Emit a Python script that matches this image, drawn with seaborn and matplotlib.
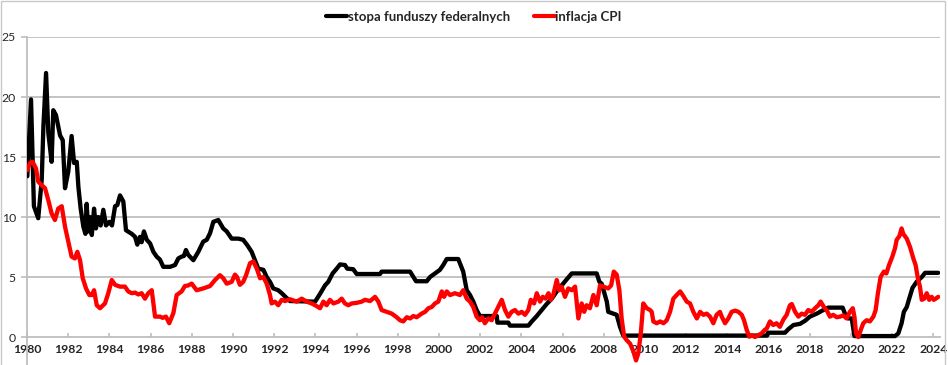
import matplotlib
matplotlib.use("Agg")
import matplotlib.pyplot as plt
import seaborn as sns
import pandas as pd
from matplotlib.patches import Rectangle
from matplotlib.lines import Line2D

# ---- data ----
ff_year = [1980.02, 1980.20, 1980.34, 1980.55, 1980.72, 1980.80, 1980.93, 1981.04, 1981.20, 1981.28,
           1981.41, 1981.48, 1981.61, 1981.74, 1981.85, 1982.01, 1982.17, 1982.29, 1982.42, 1982.50,
           1982.61, 1982.74, 1982.84, 1982.90, 1982.98, 1983.05, 1983.15, 1983.26, 1983.35, 1983.47,
           1983.58, 1983.71, 1983.84, 1984.00, 1984.13, 1984.28, 1984.39, 1984.52, 1984.68, 1984.81,
           1985.09, 1985.25, 1985.36, 1985.49, 1985.57, 1985.68, 1985.82, 1985.98, 1986.14, 1986.30,
           1986.46, 1986.62, 1986.95, 1987.19, 1987.35, 1987.51, 1987.62, 1987.72, 1987.83, 1988.08,
           1988.32, 1988.56, 1988.73, 1988.89, 1989.05, 1989.29, 1989.53, 1989.70, 1989.94, 1990.26,
           1990.50, 1990.70, 1990.91, 1991.07, 1991.23, 1991.48, 1991.64, 1991.80, 1991.96, 1992.20,
           1992.37, 1992.58, 1992.77, 1993.99, 1994.23, 1994.47, 1994.63, 1994.84, 1995.04, 1995.20,
           1995.44, 1995.55, 1995.84, 1996.01, 1997.14, 1997.22, 1998.60, 1998.76, 1998.89, 1999.41,
           1999.57, 1999.81, 2000.05, 2000.21, 2000.38, 2000.94, 2001.18, 2001.35, 2001.51, 2001.67,
           2001.83, 2001.99, 2002.81, 2002.84, 2003.37, 2003.45, 2004.34, 2004.51, 2004.75, 2004.99,
           2005.23, 2005.48, 2005.72, 2005.96, 2006.20, 2006.45, 2007.66, 2007.79, 2007.90, 2008.01,
           2008.15, 2008.22, 2008.63, 2008.79, 2008.95, 2015.93, 2015.97, 2016.80, 2016.96, 2017.21,
           2017.53, 2017.77, 2018.01, 2018.34, 2018.66, 2018.90, 2019.60, 2019.71, 2019.87, 2020.04,
           2020.17, 2022.14, 2022.30, 2022.46, 2022.57, 2022.71, 2022.83, 2022.99, 2023.19, 2023.44,
           2023.60, 2024.24]
ff_rate = [13.4, 19.8, 10.9, 9.9, 13.1, 17.5, 22.0, 17.0, 14.6, 18.9,
           18.5, 17.9, 16.8, 16.4, 12.4, 13.8, 16.75, 14.5, 14.6, 12.5,
           10.7, 9.2, 8.6, 11.1, 8.8, 10.0, 8.5, 10.7, 9.05, 10.0,
           9.3, 10.6, 9.3, 9.6, 9.3, 10.9, 11.0, 11.8, 11.3, 8.9,
           8.6, 8.35, 7.7, 8.35, 7.9, 8.8, 8.1, 7.8, 7.1, 6.7,
           6.45, 5.85, 5.85, 6.0, 6.55, 6.7, 6.75, 7.25, 6.85, 6.4,
           7.1, 7.95, 8.1, 8.65, 9.6, 9.75, 9.05, 8.8, 8.2, 8.2,
           8.1, 7.65, 7.1, 6.4, 5.7, 5.6, 5.0, 4.6, 4.05, 3.9,
           3.65, 3.3, 3.0, 2.95, 3.6, 4.3, 4.6, 5.3, 5.7, 6.05,
           6.0, 5.7, 5.65, 5.25, 5.25, 5.45, 5.45, 5.0, 4.65, 4.65,
           5.0, 5.3, 5.6, 6.0, 6.5, 6.5, 5.45, 3.9, 3.5, 2.95,
           2.25, 1.75, 1.75, 1.2, 1.2, 0.95, 0.95, 1.3, 1.75, 2.25,
           2.75, 3.2, 3.8, 4.3, 4.8, 5.3, 5.3, 4.6, 4.45, 3.8,
           2.95, 2.1, 1.85, 0.85, 0.12, 0.12, 0.36, 0.36, 0.65, 1.0,
           1.1, 1.35, 1.7, 1.95, 2.25, 2.45, 2.45, 1.95, 1.55, 1.55,
           0.08, 0.08, 0.3, 1.15, 2.1, 2.5, 3.2, 4.1, 4.6, 5.0,
           5.35, 5.35]

cpi_year = [1980.02, 1980.15, 1980.28, 1980.44, 1980.55, 1980.72, 1980.88, 1981.04, 1981.20, 1981.36,
            1981.52, 1981.69, 1981.85, 1982.01, 1982.17, 1982.33, 1982.45, 1982.58, 1982.71, 1982.87,
            1983.03, 1983.15, 1983.26, 1983.39, 1983.55, 1983.79, 1983.95, 1984.12, 1984.28, 1984.52,
            1984.76, 1984.92, 1985.09, 1985.25, 1985.41, 1985.57, 1985.73, 1985.89, 1986.06, 1986.22,
            1986.46, 1986.59, 1986.75, 1986.91, 1987.11, 1987.27, 1987.51, 1987.67, 1987.83, 1988.00,
            1988.24, 1988.56, 1988.89, 1989.13, 1989.37, 1989.53, 1989.70, 1989.94, 1990.10, 1990.20,
            1990.34, 1990.50, 1990.64, 1990.83, 1990.99, 1991.16, 1991.32, 1991.48, 1991.64, 1991.80,
            1991.88, 1992.04, 1992.20, 1992.37, 1992.53, 1992.77, 1993.10, 1993.34, 1993.58, 1993.82,
            1993.99, 1994.23, 1994.39, 1994.55, 1994.71, 1994.88, 1995.12, 1995.28, 1995.44, 1995.60,
            1995.77, 1996.01, 1996.25, 1996.41, 1996.66, 1996.90, 1997.06, 1997.22, 1997.47, 1997.71,
            1997.95, 1998.11, 1998.27, 1998.44, 1998.60, 1998.76, 1998.92, 1999.16, 1999.33, 1999.49,
            1999.65, 1999.81, 1999.97, 2000.14, 2000.25, 2000.38, 2000.54, 2000.78, 2001.02, 2001.18,
            2001.35, 2001.51, 2001.67, 2001.83, 2001.99, 2002.10, 2002.23, 2002.40, 2002.56, 2002.72,
            2002.88, 2003.05, 2003.21, 2003.37, 2003.53, 2003.69, 2003.86, 2004.02, 2004.18, 2004.34,
            2004.46, 2004.62, 2004.75, 2004.91, 2005.04, 2005.18, 2005.32, 2005.43, 2005.55, 2005.72,
            2005.84, 2005.96, 2006.12, 2006.28, 2006.45, 2006.61, 2006.77, 2006.93, 2007.05, 2007.17,
            2007.33, 2007.50, 2007.66, 2007.82, 2007.98, 2008.22, 2008.36, 2008.49, 2008.63, 2008.76,
            2008.87, 2008.99, 2009.11, 2009.28, 2009.44, 2009.57, 2009.68, 2009.80, 2009.92, 2010.09,
            2010.25, 2010.33, 2010.41, 2010.57, 2010.74, 2010.90, 2011.06, 2011.22, 2011.38, 2011.54,
            2011.71, 2011.87, 2012.03, 2012.19, 2012.35, 2012.52, 2012.68, 2012.84, 2013.00, 2013.16,
            2013.32, 2013.48, 2013.64, 2013.73, 2013.89, 2014.05, 2014.21, 2014.38, 2014.54, 2014.70,
            2014.81, 2014.94, 2015.07, 2015.20, 2015.34, 2015.50, 2015.66, 2015.82, 2015.91, 2016.07,
            2016.23, 2016.39, 2016.55, 2016.72, 2016.88, 2017.04, 2017.13, 2017.29, 2017.45, 2017.61,
            2017.77, 2017.93, 2018.09, 2018.26, 2018.42, 2018.53, 2018.69, 2018.82, 2018.98, 2019.14,
            2019.31, 2019.47, 2019.63, 2019.79, 2019.95, 2020.09, 2020.17, 2020.25, 2020.36, 2020.49,
            2020.60, 2020.76, 2020.92, 2021.09, 2021.20, 2021.31, 2021.44, 2021.60, 2021.72, 2021.85,
            2022.01, 2022.14, 2022.22, 2022.35, 2022.46, 2022.54, 2022.71, 2022.87, 2023.03, 2023.14,
            2023.25, 2023.35, 2023.44, 2023.56, 2023.68, 2023.80, 2023.92, 2024.02, 2024.12, 2024.24]
cpi_rate = [13.9, 14.5, 14.6, 14.05, 12.95, 12.65, 12.4, 11.4, 10.3, 9.75,
            10.7, 10.9, 9.2, 7.95, 6.7, 6.55, 7.1, 6.4, 4.9, 4.05,
            3.5, 3.5, 3.9, 2.65, 2.4, 2.8, 3.65, 4.75, 4.35, 4.2,
            4.2, 3.8, 3.65, 3.7, 3.55, 3.65, 3.2, 3.65, 3.9, 1.7,
            1.7, 1.6, 1.7, 1.15, 2.0, 3.5, 3.8, 4.25, 4.3, 4.45,
            3.9, 4.05, 4.25, 4.75, 5.15, 4.9, 4.45, 4.6, 5.2, 5.0,
            4.35, 4.6, 5.15, 6.15, 6.3, 5.7, 4.9, 5.0, 4.45, 3.5,
            2.8, 2.95, 2.65, 3.1, 3.0, 3.15, 2.95, 3.2, 2.95, 2.8,
            2.65, 2.4, 2.95, 2.65, 3.1, 2.8, 2.95, 3.2, 2.8, 2.65,
            2.8, 2.85, 2.95, 3.1, 3.0, 3.35, 2.95, 2.25, 2.1, 1.95,
            1.65, 1.4, 1.3, 1.65, 1.55, 1.75, 1.65, 1.95, 2.1, 2.4,
            2.5, 2.8, 2.95, 3.8, 3.35, 3.8, 3.5, 3.65, 3.5, 3.9,
            3.2, 2.95, 2.5, 1.7, 1.4, 1.65, 1.15, 1.55, 1.4, 1.95,
            2.5, 3.1, 2.25, 1.7, 2.1, 2.25, 1.95, 2.1, 1.85, 2.25,
            3.1, 2.8, 3.65, 2.95, 3.35, 3.2, 3.65, 3.1, 3.5, 4.75,
            3.9, 4.2, 3.35, 4.05, 3.9, 4.2, 1.55, 2.8, 2.1, 2.65,
            2.4, 3.5, 2.65, 4.3, 4.2, 4.05, 4.3, 5.45, 5.2, 3.9,
            1.55, 0.03, -0.25, -0.55, -1.2, -1.95, -1.35, 0.3, 2.8, 2.4,
            2.25, 2.1, 1.3, 1.15, 1.3, 1.15, 1.4, 2.1, 3.2, 3.5,
            3.8, 3.4, 2.95, 2.8, 2.1, 1.55, 2.1, 1.85, 1.95, 1.7,
            1.15, 1.85, 2.1, 1.7, 1.15, 1.55, 2.1, 2.2, 2.1, 1.85,
            1.4, 0.6, 0.03, 0.15, 0.0, 0.15, 0.3, 0.6, 0.7, 1.3,
            1.0, 1.15, 0.85, 1.45, 1.85, 2.65, 2.75, 2.1, 1.7, 1.95,
            1.85, 2.25, 2.1, 2.4, 2.65, 2.95, 2.5, 2.25, 1.7, 1.85,
            1.65, 1.7, 1.8, 1.55, 2.1, 2.4, 1.7, 0.3, 0.0, 0.65,
            1.15, 1.4, 1.3, 1.7, 2.25, 3.65, 5.0, 5.45, 5.3, 6.0,
            6.7, 7.4, 8.1, 8.4, 9.05, 8.6, 8.2, 7.5, 6.55, 6.0,
            4.9, 4.2, 3.1, 3.2, 3.65, 3.1, 3.35, 3.1, 3.2, 3.35]

series_names = ["stopa funduszy federalnych", "inflacja CPI"]
x_ticks = list(range(1980, 2025, 2))
y_ticks = [0, 5, 10, 15, 20, 25]

df = pd.concat([
    pd.DataFrame({"rok": ff_year, "wartosc": ff_rate, "seria": series_names[0]}),
    pd.DataFrame({"rok": cpi_year, "wartosc": cpi_rate, "seria": series_names[1]}),
], ignore_index=True)

sns.set_style("white")
plt.rcParams["font.family"] = ["Lato", "DejaVu Sans"]

W, H = 948, 365
fig = plt.figure(figsize=(W / 100, H / 100), dpi=100)
x0, x1 = 26.9, 939.5
y_top = 37.0
ax = fig.add_axes([x0 / W, 0.0, (x1 - x0) / W, (H - y_top) / H])

grid_c = "#BEBEBE"
for v in y_ticks[1:]:
    ax.axhline(v, color=grid_c, lw=1.3, zorder=0)

sns.lineplot(data=df, x="rok", y="wartosc", hue="seria", sort=False, estimator=None,
             palette={series_names[0]: "#000000", series_names[1]: "#FF0000"},
             linewidth=3.1, ax=ax, legend=False, zorder=3)

ax.set_xlim(1980, 2024.3)
ax.set_ylim(-2.33, 25)
ax.set_xlabel("")
ax.set_ylabel("")

for s in ["top", "right"]:
    ax.spines[s].set_visible(False)
ax.spines["left"].set_color(grid_c)
ax.spines["left"].set_linewidth(1.3)
ax.spines["bottom"].set_position(("data", 0))
ax.spines["bottom"].set_color(grid_c)
ax.spines["bottom"].set_linewidth(1.3)

ax.set_xticks(x_ticks)
ax.set_xticklabels([str(t) for t in x_ticks], fontsize=8.8, fontweight="bold")
ax.set_yticks(y_ticks)
ax.set_yticklabels([str(t) for t in y_ticks], fontsize=8.8)
ax.tick_params(axis="x", direction="in", length=3, width=1.2, color=grid_c, pad=5)
ax.tick_params(axis="y", direction="out", length=4, width=1.2, color=grid_c, pad=4)
ax.tick_params(bottom=True, left=True)

handles = [Line2D([], [], color="#000000", lw=3.0), Line2D([], [], color="#FF0000", lw=3.0)]
fig.legend(handles, series_names, loc="center", bbox_to_anchor=(0.5, 1 - 17 / H), ncol=2,
           frameon=False, handlelength=1.6, handletextpad=0.05, columnspacing=1.8,
           prop={"family": ["Lato", "DejaVu Sans"], "weight": "bold", "size": 9.5})

fig.patches.append(Rectangle((0.5 / W, -0.1), (945 - 0.5) / W, 1.1 - 0.5 / H, transform=fig.transFigure,
                             fill=False, edgecolor="#C8C8C8", lw=1.0))

fig.savefig("out.png", dpi=100)
